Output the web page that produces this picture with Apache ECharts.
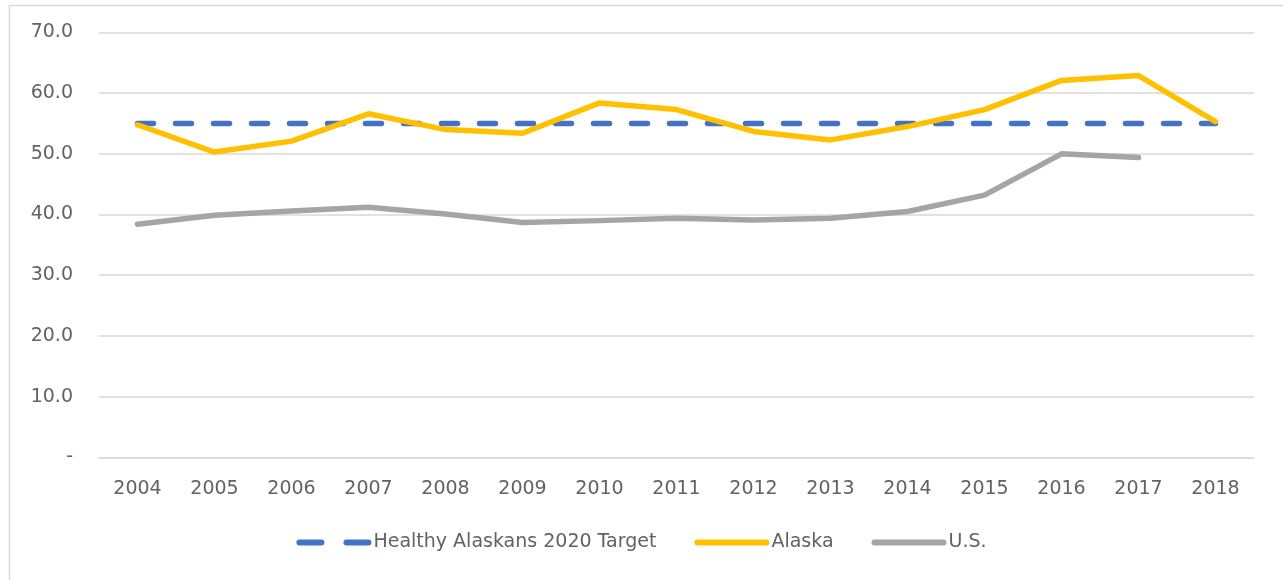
<!DOCTYPE html>
<html>
<head>
<meta charset="utf-8">
<script src="https://cdn.jsdelivr.net/npm/echarts@6/dist/echarts.min.js"></script>
<style>
html,body{margin:0;padding:0;background:#fff;}
#chart{width:1283px;height:580px;}
</style>
</head>
<body>
<div id="chart"></div>
<script>
const years = ['2004','2005','2006','2007','2008','2009','2010','2011','2012','2013','2014','2015','2016','2017','2018'];
const target = [55,55,55,55,55,55,55,55,55,55,55,55,55,55,55];
const alaska = [54.8,50.3,52.1,56.6,54.0,53.4,58.4,57.3,53.7,52.3,54.5,57.3,62.1,62.9,55.3];
const us = [38.4,39.9,40.6,41.2,40.1,38.7,39.0,39.4,39.1,39.4,40.5,43.2,50.0,49.4,null];
const yTickLabels = ['-','10.0','20.0','30.0','40.0','50.0','60.0','70.0'];
const seriesNames = ['Healthy Alaskans 2020 Target','Alaska','U.S.'];

const font = '"DejaVu Sans", sans-serif';
const textColor = '#626262';
const dashIcon = 'path://M3,0 H25 A3,3 0 0 1 25,6 H3 A3,3 0 0 1 3,0 Z M50,0 H72 A3,3 0 0 1 72,6 H50 A3,3 0 0 1 50,0 Z';
const solidIcon = 'path://M3,0 H72 A3,3 0 0 1 72,6 H3 A3,3 0 0 1 3,0 Z';
const chart = echarts.init(document.getElementById('chart'), null, {renderer:'canvas'});
chart.setOption({
  animation:false,
  backgroundColor:'#fff',
  graphic:[{
    type:'rect', left:7, top:3, z:-1,
    shape:{width:1275, height:576},
    style:{fill:'none', stroke:'#D9D9D9', lineWidth:1.5}
  }],
  grid:{left:99, right:29, top:32.5, bottom:122.7},
  legend:{
    bottom:23, left:'center',
    itemWidth:75, itemHeight:6.5, itemGap:38,
    textStyle:{color:textColor, fontSize:19, fontFamily:font, padding:[0,0,0,-3]},
    data:[
      {name:seriesNames[0], icon:dashIcon, itemStyle:{color:'#4472C4'}},
      {name:seriesNames[1], icon:solidIcon, itemStyle:{color:'#FFC000'}},
      {name:seriesNames[2], icon:solidIcon, itemStyle:{color:'#A5A5A5'}}
    ]
  },
  xAxis:{
    type:'category', data:years, boundaryGap:true,
    axisLine:{lineStyle:{color:'#D9D9D9', width:1.5}},
    axisTick:{show:false},
    axisLabel:{color:textColor, fontSize:19, fontFamily:font, margin:22}
  },
  yAxis:{
    type:'value', min:0, max:70, interval:10,
    axisLine:{show:false}, axisTick:{show:false},
    splitLine:{lineStyle:{color:'#D9D9D9', width:1.5}},
    axisLabel:{color:textColor, fontSize:19, fontFamily:font, margin:26,
      formatter:function(v){return yTickLabels[Math.round(v/10)];}}
  },
  series:[
    {name:seriesNames[0], type:'line', data:target, symbol:'none',
     lineStyle:{color:'#4472C4', width:5.5, type:[16,22], cap:'round'},
     itemStyle:{color:'#4472C4'}, z:2},
    {name:seriesNames[1], type:'line', data:alaska, symbol:'none',
     lineStyle:{color:'#FFC000', width:5.5, cap:'round', join:'round'},
     itemStyle:{color:'#FFC000'}, z:3},
    {name:seriesNames[2], type:'line', data:us, symbol:'none',
     lineStyle:{color:'#A5A5A5', width:5.5, cap:'round', join:'round'},
     itemStyle:{color:'#A5A5A5'}, z:1}
  ]
});
</script>
</body>
</html>
